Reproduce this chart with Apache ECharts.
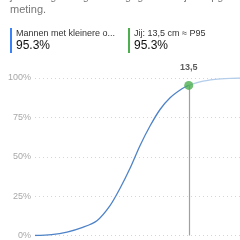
<!DOCTYPE html>
<html><head><meta charset="utf-8">
<script src="https://cdn.jsdelivr.net/npm/echarts@6/dist/echarts.min.js"></script>
<style>html,body{margin:0;padding:0;background:#fff}#c{width:240px;height:240px}</style>
</head><body><div id="c"></div>
<script>
// data (length in cm -> cumulative percent)
var lengthsCm = [6.0, 6.8, 7.56, 8.29, 9.02, 9.66, 10.15, 10.63, 11.12, 11.61, 12.1, 12.59, 13.17, 13.5];
var percents  = [0.0, 0.6, 2.2, 5.0, 9.4, 19.0, 30.0, 42.5, 57.0, 69.5, 80.0, 87.5, 93.2, 95.3];
var tailCm    = [13.5, 14.05, 14.78, 15.5, 16.0];
var tailPct   = [95.3, 97.6, 99.1, 99.8, 100.0];
var yourCm = 13.5, yourPct = 95.3, yourLabel = '13,5';
var yTicks = [0, 25, 50, 75, 100];
var cardLeftTitle = 'Mannen met kleinere o...', cardLeftValue = '95.3%';
var cardRightTitle = 'Jij: 13,5 cm \u2248 P95', cardRightValue = '95.3%';
var introText = 'meting.';

var font = '"Liberation Sans", "DejaVu Sans", sans-serif';
var chart = echarts.init(document.getElementById('c'), null, {renderer:'canvas'});
function pairs(xs, ys){ return xs.map(function(x,i){return [x, ys[i]];}); }
chart.setOption({
  animation:false,
  textStyle:{fontFamily:font},
  grid:{left:35, right:0, top:78, bottom:2, containLabel:false},
  xAxis:{type:'value', min:6, max:16, show:false},
  yAxis:{type:'value', min:yTicks[0], max:yTicks[yTicks.length-1], interval:25,
    axisLine:{show:false}, axisTick:{show:false},
    axisLabel:{formatter:'{value}%', color:'#a8a8a8', fontSize:9, margin:4, fontFamily:font},
    splitLine:{lineStyle:{type:[1,3], color:'#d6d6d6', width:1}}},
  series:[
    {type:'line', data:pairs(lengthsCm, percents), smooth:0.3, symbol:'none',
     lineStyle:{color:'#4f83c8', width:1.3}, z:3,
     markLine:{silent:true, symbol:'none', label:{show:false},
       lineStyle:{color:'#a0a0a0', type:'solid', width:1.2},
       data:[[{coord:[yourCm, yourPct]},{coord:[yourCm, 0]}]]}},
    {type:'line', data:pairs(tailCm, tailPct), smooth:0.3, symbol:'none',
     lineStyle:{color:'#b3cdea', width:1.3}, z:2},
    {type:'scatter', data:[[yourCm, yourPct]], symbolSize:9, z:5,
     itemStyle:{color:'#4caf50'},
     label:{show:true, position:'top', distance:9, formatter:yourLabel,
       color:'#333', fontSize:9, fontWeight:'bold', fontFamily:font}}
  ],
  graphic:[
    {type:'text', left:10, top:-9, style:{text:'jouw lengte volgens de gegevens bij de opgave van', fill:'#777', fontSize:11, fontFamily:font}},
    {type:'text', left:10, top:4, style:{text:introText, fill:'#777', fontSize:11, fontFamily:font}},
    {type:'rect', shape:{x:10, y:28, width:2, height:25}, style:{fill:'#3b82f6'}},
    {type:'text', left:16, top:29, style:{text:cardLeftTitle, fill:'#333', fontSize:9, fontFamily:font}},
    {type:'text', left:16, top:40, style:{text:cardLeftValue, fill:'#111', fontSize:12, fontFamily:font}},
    {type:'rect', shape:{x:128, y:28, width:2, height:25}, style:{fill:'#4caf50'}},
    {type:'text', left:134, top:29, style:{text:cardRightTitle, fill:'#333', fontSize:9, fontFamily:font}},
    {type:'text', left:134, top:40, style:{text:cardRightValue, fill:'#111', fontSize:12, fontFamily:font}}
  ]
});
</script></body></html>
